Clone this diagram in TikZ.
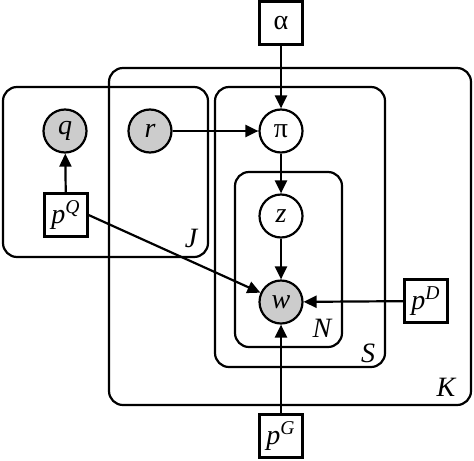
\documentclass[tikz,border=0pt]{standalone}
\usepackage{amsmath}
\usepackage{fontspec}
\setmainfont{Liberation Serif}
\usetikzlibrary{arrows.meta, positioning}
\tikzset{
    latent/.style={circle, draw=black, line width=1.1pt, minimum size=21.5pt, inner sep=0pt, fill=white, font=\fontsize{14}{16}\selectfont},
    observed/.style={latent, fill=black!20},
    param/.style={rectangle, draw=black, line width=1.1pt, minimum size=21.5pt, inner sep=0pt, fill=white, font=\fontsize{14}{16}\selectfont},
    plate/.style={draw=black, line width=1.1pt, rounded corners=7pt},
    platelabel/.style={inner sep=0pt, font=\fontsize{14}{16}\selectfont\itshape},
    arrow/.style={line width=1.1pt, -{Triangle[length=6.5pt, width=6pt]}}
}
\begin{document}
\begin{tikzpicture}[x=0.5pt, y=-0.5pt]
    \useasboundingbox (0,0) rectangle (474,460);
    % plates
    \draw [plate] (109,68) rectangle (471,405);
    \draw [plate] (3,87) rectangle (208,257);
    \draw [plate] (215,87) rectangle (385,367);
    \draw [plate] (235,172) rectangle (342,347);
    \node (labJ) [platelabel] at (191,238) {J};
    \node (labN) [platelabel] at (322,328) {N};
    \node (labS) [platelabel] at (368,353) {S};
    \node (labK) [platelabel] at (446,387) {K};

    % variables
    \node (alpha) [param] at (281,23) {α};
    \node (q) [observed] at (65,131) {\textit{q}};
    \node (r) [observed] at (150,131) {\textit{r}};
    \node (pi) [latent] at (281,131) {π};
    \node (z) [latent] at (281,216) {\textit{z}};
    \node (w) [observed] at (281,302) {\textit{w}};
    \node (pQ) [param] at (66,215) {$\textit{p}^{\textit{Q}}$};
    \node (pD) [param] at (426,301) {$\textit{p}^{\textit{D}}$};
    \node (pG) [param] at (281,436) {$\textit{p}^{\textit{G}}$};

    \draw [arrow] (alpha) -- (pi);
    \draw [arrow] (r) -- (pi);
    \draw [arrow] (pi) -- (z);
    \draw [arrow] (z) -- (w);
    \draw [arrow] (pQ) -- (q);
    \draw [arrow] (pQ.east) -- (w);
    \draw [arrow] (pD) -- (w);
    \draw [arrow] (pG) -- (w);
\end{tikzpicture}
\end{document}
